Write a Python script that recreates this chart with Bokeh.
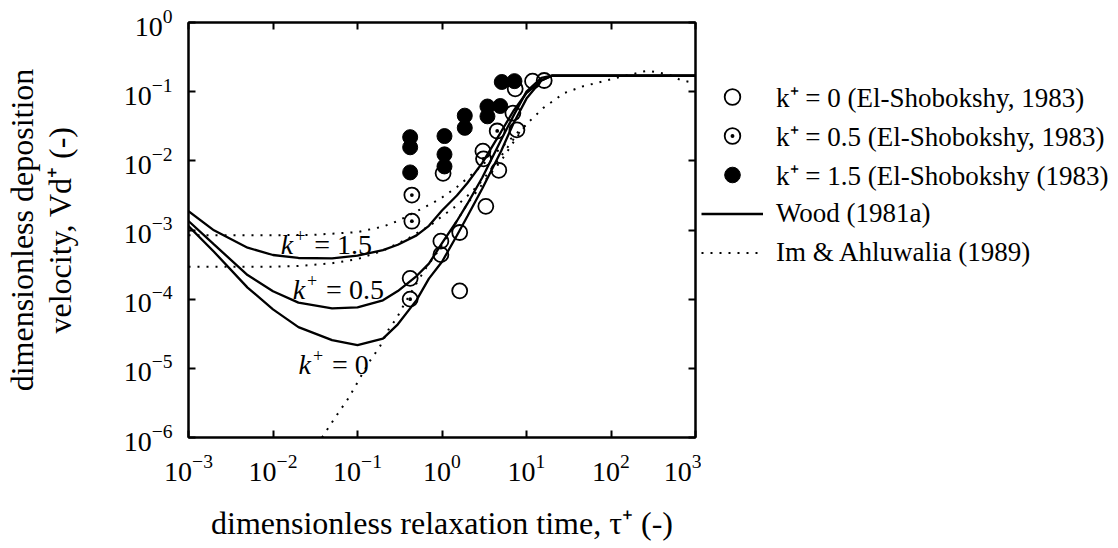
from bokeh.plotting import figure
from bokeh.layouts import row
from bokeh.models import (Range1d, LogAxis, Legend, LegendItem, Label,
                          FixedTicker, LogTickFormatter)
from bokeh.embed import file_html
from bokeh.resources import INLINE

# ---------------- data ----------------
# Wood (1981a) curves (solid)
wood_tau = [0.001, 0.002, 0.005, 0.01, 0.02, 0.05, 0.1, 0.2, 0.3, 0.5, 0.7,
            1.0, 1.5, 2.0, 3.0, 5.0, 7.0, 10.0, 15.0, 20.0, 1000.0]
wood_k15 = [1.87e-3, 9.9e-4, 5.55e-4, 4.35e-4, 3.94e-4, 3.89e-4, 4.25e-4, 5.13e-4,
            6.12e-4, 8.36e-4, 1.15e-3, 1.91e-3, 3.16e-3, 4.79e-3, 9.33e-3, 0.0263,
            0.0525, 0.0955, 0.145, 0.170, 0.170]
wood_k05 = [1.35e-3, 6.19e-4, 2.23e-4, 1.30e-4, 8.91e-5, 7.36e-5, 7.62e-5, 9.62e-5,
            1.31e-4, 2.16e-4, 3.26e-4, 6.46e-4, 1.35e-3, 2.40e-3, 5.75e-3, 0.020,
            0.0447, 0.100, 0.158, 0.170, 0.170]
wood_k0 = [1.14e-3, 4.85e-4, 1.47e-4, 7.13e-5, 3.95e-5, 2.56e-5, 2.17e-5, 2.69e-5,
           4.33e-5, 9.70e-5, 1.98e-4, 3.47e-4, 8.32e-4, 1.58e-3, 3.98e-3, 0.0138,
           0.0347, 0.0794, 0.145, 0.170, 0.170]

# Im & Ahluwalia (1989) curves (dotted)
im_k15_tau = [0.001, 0.01, 0.03, 0.1, 0.2, 0.3, 0.5, 0.8, 1.0, 1.5, 2.5, 4.0, 6.3,
              10.0, 16.0, 28.0, 47.0, 81.0, 125.0, 190.0, 240.0, 280.0, 350.0,
              500.0, 660.0, 1000.0]
im_k15 = [8.41e-4, 8.41e-4, 8.51e-4, 9.33e-4, 1.12e-3, 1.35e-3, 1.86e-3, 2.51e-3,
          2.95e-3, 4.17e-3, 7.08e-3, 0.0120, 0.0200, 0.0339, 0.0589, 0.0955, 0.120,
          0.141, 0.162, 0.182, 0.195, 0.200, 0.191, 0.174, 0.148, 0.132]
im_k05_tau = [0.001, 0.01, 0.02, 0.05, 0.1, 0.2, 0.4, 0.75, 1.0, 1.37, 1.72, 2.25,
              3.16, 5.0, 7.1, 10.0]
im_k05 = [2.95e-4, 2.95e-4, 3.02e-4, 3.31e-4, 3.80e-4, 5.01e-4, 7.59e-4, 1.20e-3,
          1.58e-3, 2.09e-3, 2.63e-3, 3.55e-3, 5.62e-3, 0.0117, 0.0209, 0.0339]
im_k0_tau = [0.038, 0.0545, 0.0783, 0.1076, 0.141, 0.185, 0.233, 0.292, 0.366, 0.5,
             0.63, 0.87, 1.26, 2.0, 3.16, 5.0, 7.1, 10.0]
im_k0 = [1.0e-6, 1.95e-6, 3.72e-6, 7.33e-6, 1.29e-5, 2.09e-5, 3.63e-5, 5.37e-5,
         8.91e-5, 1.70e-4, 2.69e-4, 4.68e-4, 9.55e-4, 2.40e-3, 5.01e-3, 0.0100,
         0.0191, 0.0339]

# El-Shobokshy (1983) measurements
es_k0_tau = [0.42, 0.97, 0.97, 1.62, 1.62, 3.3, 1.03, 3.05, 4.7, 7.7, 6.9, 7.35,
             11.8, 16.2]
es_k0_v = [2.0e-4, 6.9e-4, 4.4e-4, 9.2e-4, 1.32e-4, 2.2e-3, 6.6e-3, 0.0138, 7.3e-3,
           0.028, 0.049, 0.11, 0.142, 0.145]
es_k05_tau = [0.44, 0.44, 0.42, 3.1, 4.5]
es_k05_v = [3.2e-3, 1.34e-3, 1.0e-4, 0.0107, 0.027]
es_k15_tau = [0.42, 0.42, 0.42, 1.07, 1.07, 1.07, 1.86, 1.86, 3.45, 3.45, 4.89, 5.1,
              7.2]
es_k15_v = [0.022, 0.0157, 0.0068, 0.0228, 0.0124, 0.0083, 0.045, 0.030, 0.061,
            0.044, 0.062, 0.138, 0.142]

x_ticks = [1e-3, 1e-2, 1e-1, 1e0, 1e1, 1e2, 1e3]
y_ticks = [1e-6, 1e-5, 1e-4, 1e-3, 1e-2, 1e-1, 1e0]

legend_labels = ["k\u207a = 0 (El-Shobokshy, 1983)",
                 "k\u207a = 0.5 (El-Shobokshy, 1983)",
                 "k\u207a = 1.5 (El-Shobokshy (1983)",
                 "Wood (1981a)",
                 "Im & Ahluwalia (1989)"]
curve_label_values = ["1.5", "0.5", "0"]
# ----------------------------------------------------------

FONT = "Liberation Serif"
H = 532

p = figure(x_axis_type="log", y_axis_type="log",
           x_range=Range1d(1e-3, 1e3), y_range=Range1d(1e-6, 1.0),
           frame_width=507, frame_height=415,
           min_border_left=184, min_border_right=6,
           min_border_top=22, min_border_bottom=95,
           output_backend="svg", toolbar_location=None)
p.grid.visible = False
p.outline_line_color = "black"
p.outline_line_width = 2
p.background_fill_color = "white"
p.border_fill_color = "white"

top_axis = LogAxis()
right_axis = LogAxis()
p.add_layout(top_axis, "above")
p.add_layout(right_axis, "right")

for ax in p.axis:
    ax.axis_line_color = "black"
    ax.axis_line_width = 2
    ax.major_tick_in = 7
    ax.major_tick_out = 0
    ax.major_tick_line_width = 2
    ax.minor_tick_line_color = None
    ax.major_label_text_font = FONT
    ax.major_label_text_font_size = "28px"
    ax.major_label_text_color = "black"
    ax.formatter = LogTickFormatter()

for ax in p.xaxis:
    ax.ticker = FixedTicker(ticks=x_ticks, minor_ticks=[])
for ax in p.yaxis:
    ax.ticker = FixedTicker(ticks=y_ticks, minor_ticks=[])

for ax in (top_axis, right_axis):
    ax.major_label_text_font_size = "1px"
    ax.major_label_text_color = None
    ax.major_label_standoff = 0

bx = p.below[0]
ly = p.left[0]
bx.major_label_standoff = 17
ly.major_label_standoff = 16
bx.axis_label = "dimensionless relaxation time, \u03c4\u207a (-)"
ly.axis_label = "dimensionless deposition\nvelocity, Vd\u207a (-)"
for ax in (bx, ly):
    ax.axis_label_text_font = FONT
    ax.axis_label_text_font_size = "32px"
    ax.axis_label_text_font_style = "normal"
    ax.axis_label_text_color = "black"
bx.axis_label_standoff = 21
ly.axis_label_standoff = 43
ly.axis_label_text_line_height = 1.05

# curves
dot = dict(line_color="black", line_width=2, line_dash="2 7")
sol = dict(line_color="black", line_width=2.3)
p.line(wood_tau, wood_k15, **sol)
p.line(wood_tau, wood_k05, **sol)
p.line(wood_tau, wood_k0, **sol)
p.line(im_k15_tau, im_k15, **dot)
p.line(im_k05_tau, im_k05, **dot)
p.line(im_k0_tau, im_k0, **dot)

# markers
open_style = dict(size=15, fill_color=None, line_color="black", line_width=1.8)
fill_style = dict(size=15, fill_color="black", line_color="black", line_width=1)
p.scatter(es_k0_tau, es_k0_v, marker="circle", **open_style)
p.scatter(es_k05_tau, es_k05_v, marker="circle_dot", **open_style)
p.scatter(es_k15_tau, es_k15_v, marker="circle", **fill_style)

# in-plot curve labels  (anchor = right edge of the italic k)
label_pos = [(10 ** -1.76, 10 ** -3.208), (10 ** -1.62, 10 ** -3.858),
             (10 ** -1.55, 10 ** -4.942)]
for (lx, lyv), val in zip(label_pos, curve_label_values):
    p.add_layout(Label(x=lx, y=lyv, text="k", text_font=FONT, text_font_style="italic",
                       text_font_size="28px", text_align="right",
                       text_baseline="middle", text_color="black"))
    p.add_layout(Label(x=lx, y=lyv, text="+", text_font=FONT, text_font_size="18px",
                       text_align="left", text_baseline="middle", y_offset=9,
                       x_offset=2, text_color="black"))
    p.add_layout(Label(x=lx, y=lyv, text="= " + val, text_font=FONT,
                       text_font_size="28px", text_align="left",
                       text_baseline="middle", x_offset=21, text_color="black"))

# legend panel: a separate figure whose ranges exclude the data, so only the
# legend keys of these renderers are visible
q = figure(width=415, height=H, min_border=0, x_range=Range1d(-2, -1),
           y_range=Range1d(-2, -1), x_axis_location=None, y_axis_location=None,
           output_backend="svg", toolbar_location=None)
q.grid.visible = False
q.outline_line_color = None
q.background_fill_color = "white"
q.border_fill_color = "white"
g_o = q.scatter(es_k0_tau, es_k0_v, marker="circle", **open_style)
g_od = q.scatter(es_k05_tau, es_k05_v, marker="circle_dot", **open_style)
g_f = q.scatter(es_k15_tau, es_k15_v, marker="circle", **fill_style)
g_w = q.line(wood_tau, wood_k15, **sol)
g_i = q.line(im_k15_tau, im_k15, **dot)

legend = Legend(items=[LegendItem(label=legend_labels[0], renderers=[g_o]),
                       LegendItem(label=legend_labels[1], renderers=[g_od]),
                       LegendItem(label=legend_labels[2], renderers=[g_f]),
                       LegendItem(label=legend_labels[3], renderers=[g_w]),
                       LegendItem(label=legend_labels[4], renderers=[g_i])],
                location=(0, 154), orientation="vertical",
                glyph_width=62, glyph_height=39, label_height=39, spacing=0,
                padding=0, margin=0, label_standoff=13,
                border_line_color=None, background_fill_alpha=0,
                label_text_font=FONT, label_text_font_size="27px",
                label_text_color="black")
q.add_layout(legend, "center")

layout = row(p, q)
open("out.html", "w").write(file_html(layout, INLINE))
